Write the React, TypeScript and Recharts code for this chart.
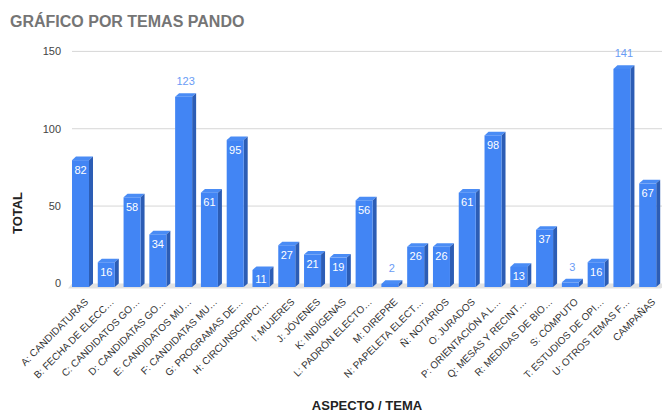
import { BarChart, Bar, XAxis, YAxis, CartesianGrid, LabelList } from "recharts";

const CATEGORIES = [
  "A: CANDIDATURAS",
  "B: FECHA DE ELECC…",
  "C: CANDIDATOS GO…",
  "D: CANDIDATAS GO…",
  "E: CANDIDATOS MU…",
  "F: CANDIDATAS MU…",
  "G: PROGRAMAS DE…",
  "H: CIRCUNSCRIPCI…",
  "I: MUJERES",
  "J: JÓVENES",
  "K: INDÍGENAS",
  "L: PADRÓN ELECTO…",
  "M: DIREPRE",
  "N: PAPELETA ELECT…",
  "Ñ: NOTARIOS",
  "O: JURADOS",
  "P: ORIENTACIÓN A L…",
  "Q: MESAS Y RECINT…",
  "R: MEDIDAS DE BIO…",
  "S: CÓMPUTO",
  "T: ESTUDIOS DE OPI…",
  "U: OTROS TEMAS F…",
  "CAMPAÑAS",
];

const TOTALS = [82, 16, 58, 34, 123, 61, 95, 11, 27, 21, 19, 56, 2, 26, 26, 61, 98, 13, 37, 3, 16, 141, 67];

const Y_TICKS = [0, 50, 100, 150];

const W = 662;
const H = 412;
const TOP = 55;
const BOTTOM = 287;
const DX = 4;
const DY = 3.6;
const FONT = "'Liberation Sans', Arial, sans-serif";

const data = CATEGORIES.map((name, i) => ({ name, total: TOTALS[i] }));

function Bar3D(props: any) {
  const { x, y, width, height } = props;
  if (height == null) return null;
  return (
    <g>
      <polygon
        points={`${x},${y} ${x + DX},${y - DY} ${x + width + DX},${y - DY} ${x + width},${y}`}
        fill="#4a8cf5"
      />
      <polygon
        points={`${x + width},${y} ${x + width + DX},${y - DY} ${x + width + DX},${y + height - DY} ${x + width},${y + height}`}
        fill="#2c5db5"
      />
      <rect x={x} y={y} width={width} height={height} fill="#4285f4" />
    </g>
  );
}

function ValueLabel(props: any) {
  const { x, y, width, value } = props;
  const outside = value > 110 || value < 5;
  if (outside) {
    return (
      <text x={x + width / 2 + 2} y={y - 15.5} textAnchor="middle" dominantBaseline="central"
        fontSize={11} fill="#6a9cf5" fontFamily={FONT}>
        {value}
      </text>
    );
  }
  return (
    <text x={x + width / 2} y={y + 9.5} textAnchor="middle" dominantBaseline="central"
      fontSize={11} fill="#ffffff" fontFamily={FONT}>
      {value}
    </text>
  );
}

function GridLine(p: any) {
  const { x1, x2, y1, index } = p;
  if (Math.abs(y1 - BOTTOM) < 1) {
    return (
      <g key={`h-${index}`}>
        <polygon
          points={`${x1 + DX},${y1 - DY} ${x2 + DX},${y1 - DY} ${x2},${y1 + 1.5} ${x1},${y1 + 1.5}`}
          fill="#e2e2e2"
        />
      </g>
    );
  }
  return (
    <line key={`h-${index}`} x1={x1 + DX} x2={x2 + DX} y1={y1 - DY} y2={y1 - DY}
      stroke="#d6d6d6" strokeWidth={1} />
  );
}

function YTick(p: any) {
  const { y, payload } = p;
  return (
    <text x={61} y={y - DY} textAnchor="end" dominantBaseline="central"
      fontSize={11} fill="#444444" fontFamily={FONT}>
      {payload.value}
    </text>
  );
}

function XTick(p: any) {
  const { x, payload } = p;
  return (
    <g transform={`translate(${x + 5.5},300) rotate(-45)`}>
      <text textAnchor="end" dy="0.35em" fontSize={10} fill="#333333" fontFamily={FONT}>
        {payload.value}
      </text>
    </g>
  );
}

export default function App() {
  return (
    <div style={{ position: "absolute", left: 0, top: 0, width: W, height: H, background: "#fff" }}>
      <BarChart width={W} height={H} data={data}
        margin={{ top: TOP, right: 1, left: 0, bottom: 0 }}>
        <CartesianGrid vertical={false} horizontal={GridLine as any} />
        <XAxis dataKey="name" interval={0} height={H - BOTTOM}
          axisLine={false} tickLine={false} tick={XTick as any} />
        <YAxis domain={[0, 150]} ticks={Y_TICKS} width={68}
          axisLine={false} tickLine={false} tick={YTick as any} />
        <Bar dataKey="total" barSize={17} shape={Bar3D as any} isAnimationActive={false}>
          <LabelList dataKey="total" content={ValueLabel as any} />
        </Bar>
      </BarChart>
      <svg width={W} height={H} style={{ position: "absolute", left: 0, top: 0, pointerEvents: "none" }}>
        <text x={10} y={27.3} fontSize={16} fontWeight="bold" fill="#757575" fontFamily={FONT}>
          GRÁFICO POR TEMAS PANDO
        </text>
        <text transform="translate(17,213) rotate(-90)" textAnchor="middle" dominantBaseline="central"
          fontSize={13} fontWeight="bold" fill="#222222" fontFamily={FONT}>
          TOTAL
        </text>
        <text x={367} y={405} textAnchor="middle" dominantBaseline="central"
          fontSize={13} fontWeight="bold" fill="#222222" fontFamily={FONT}>
          ASPECTO / TEMA
        </text>
      </svg>
    </div>
  );
}
